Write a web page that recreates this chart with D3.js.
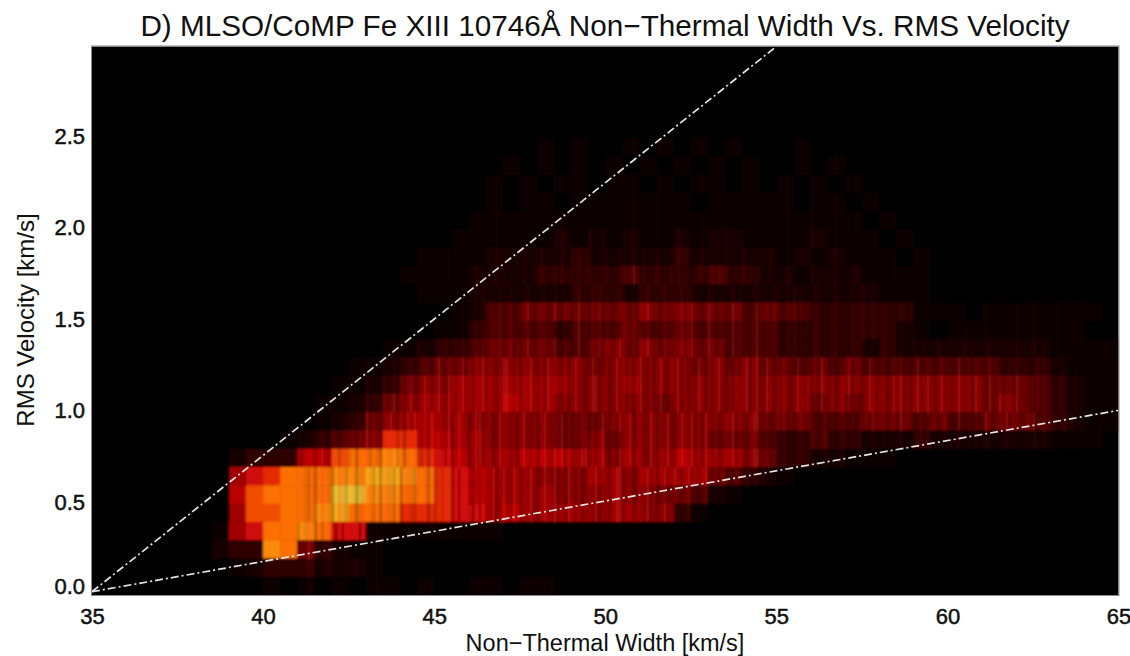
<!DOCTYPE html>
<html><head><meta charset="utf-8">
<script src="https://cdn.jsdelivr.net/npm/d3@7"></script>
<style>html,body{margin:0;background:#fff}svg{display:block}text{font-family:"Liberation Sans",Arial,sans-serif;fill:#111}</style>
</head><body><svg id="c" width="1130" height="656"></svg>
<script>
const titleText = "D) MLSO/CoMP Fe XIII 10746Å Non\u2212Thermal Width Vs. RMS Velocity";
const xLabel = "Non\u2212Thermal Width [km/s]";
const yLabel = "RMS Velocity [km/s]";
const xTicks = [35,40,45,50,55,60,65];
const yTicks = [0,0.5,1,1.5,2,2.5];
const binWidth = 0.5, binHeight = 0.1;
// density, hex level 0-f, one string per RMS velocity bin, lowest edge given in rowStart
const rowStart = [2.4,2.3,2.2,2.1,2.0,1.9,1.8,1.7,1.6,1.5,1.4,1.3,1.2,1.1,1.0,0.9,0.8,0.7,0.6,0.5,0.4,0.3,0.2,0.1,0.0];
const density = [
"0000000000 0000000000 0000001010 0101010100 0100000000 0000000000",
"0000000000 0000000000 0000101010 1010101010 0101000000 0000000000",
"0000000000 0000000000 0001010110 1101011010 1010100000 0000000000",
"0000000000 0000000000 0001011011 1111101111 1011010000 0000000000",
"0000000000 0000000000 0011111111 1111111111 1111101000 0000000000",
"0000000000 0000000000 0111111212 1211212211 1121110100 0000000000",
"0000000000 0000000001 1112222232 2222322222 1212111010 0000000000",
"0000000000 0000000011 1122223333 3433334332 2122211110 0000000000",
"0000000000 0000000001 1122222233 3233322222 2222221110 0000000000",
"0000000000 0000000000 0124455555 5565655545 4433333311 1011111110",
"0000000000 0000000000 1134444344 4544544444 3333333210 1111111100",
"0000000000 0000000112 3345555445 6565655444 3333323222 2222221111",
"0000000000 0000011234 5566666665 6666656565 5454544444 4443332111",
"0000000000 0000112356 6777777766 6766666666 6666666666 6655543211",
"0000000000 0001123567 7777877666 6665666666 6656566666 6656543211",
"0000000000 0001235678 7766666555 6666666665 5544455545 4455543211",
"0000000000 0123456aa8 8776666556 5666665554 3343322232 2222221110",
"0000000023 3388bccdca 9877788877 6767877765 3322111000 0000000000",
"0000000079 acccddeedc a987776667 7677775432 1000000000 0000000000",
"000000008b ccccffddcc a987777666 7665542100 0000000000 0000000000",
"000000007b bccdecccaa a997877776 7766310000 0000000000 0000000000",
"0000000179 ccdc991111 1111000000 0000000000 0000000000 0000000000",
"0000000233 dc53211000 0000000000 0000000000 0000000000 0000000000",
"0000000012 3332221000 0000000000 0000000000 0000000000 0000000000",
"0000000000 1010101101 0011011000 0000000000 0000000000 0000000000"
].map(s => s.replace(/ /g,""));
// fine vertical streaks, 0.1 km/s wide, starting at streakStart; 3 = neutral
const streakStart = 41, streakWidth = 0.1, streakBarWidth = 0.07;
const streaks = ("3530362313 6324053316 2351340633 2036153403 5312630425 3163024360 5310436235 1640352603" +
"4251360314 6203541362 0531462305 3614203563 1405362130 6342150364 2036513402 6351304621" +
"3046215360 4132650314 6203153460 3521640325 1036425130 6314025361 4203651340 2536130462").replace(/ /g,"");
// which part of the streak list each velocity bin reads, groups of neighbouring bins share streaks
const streakShift = [0,0,0,0,0,0,0,0,23,23,23,23,57,57,57,91,91,91,131,131,131,171,171,171,171];
const lineLower = [[35,0.018],[65,1.01]];
const lineUpper = [[35,0.018],[55,3.0]];

const svg = d3.select("#c");
const x = d3.scaleLinear().domain([35,65]).range([92,1118.5]);
const y = d3.scaleLinear().domain([0,3]).range([595,46.5]);
const colors = ["#000000","#0a0000","#180000","#2e0000","#4e0000","#6c0000","#880000","#a00000","#ba0000","#d00808","#e42a04","#f04e06","#fb7004","#fb8a0c","#f4a818","#e8c030"];
const color = d3.scaleLinear().domain(d3.range(16)).range(colors);

svg.append("defs").append("filter").attr("id","b").attr("x","0").attr("y","0").attr("width","1").attr("height","1")
  .append("feGaussianBlur").attr("stdDeviation","1.2");
svg.append("defs").append("clipPath").attr("id","pc").append("rect")
  .attr("x",x(35)).attr("y",y(3)).attr("width",x(65)-x(35)).attr("height",y(0)-y(3));

svg.append("rect").attr("x",x(35)).attr("y",y(3)).attr("width",x(65)-x(35)).attr("height",y(0)-y(3)).attr("fill","#000");
const plot = svg.append("g").attr("clip-path","url(#pc)");
const img = plot.append("g").attr("filter","url(#b)");

const cells = [];
density.forEach((s,r) => { for (let i=0;i<s.length;i++){ const v=parseInt(s[i],16); if(v>0) cells.push({v0:rowStart[r],x0:35+i*binWidth,v}); } });
img.selectAll("rect.cell").data(cells).join("rect").attr("class","cell")
  .attr("x",d=>x(d.x0)).attr("width",d=>x(d.x0+binWidth)-x(d.x0)+0.5)
  .attr("y",d=>y(d.v0+binHeight)).attr("height",d=>y(d.v0)-y(d.v0+binHeight)+0.5)
  .attr("fill",d=>color(d.v));

const over = [];
for (let f=0;f<streaks.length;f++){
  const xf=streakStart+f*streakWidth, col=Math.floor((xf-35)/binWidth);
  density.forEach((row,r)=>{
    const v=parseInt(row[col]||"0",16);
    const s=+streaks[(f+streakShift[r])%streaks.length];
    if(v>0 && s!==3) over.push({x0:xf,v0:rowStart[r],v,s});
  });
}
img.selectAll("rect.st").data(over).join("rect").attr("class","st")
  .attr("x",d=>x(d.x0)).attr("width",d=>x(d.x0+streakBarWidth)-x(d.x0))
  .attr("y",d=>y(d.v0+binHeight)).attr("height",d=>y(d.v0)-y(d.v0+binHeight)+0.5)
  .attr("fill",d=>d.s>3?"#e8282a":"#000")
  .attr("opacity",d=>Math.abs(d.s-3)*(d.s>3?0.085:0.10)*Math.min(1,d.v/6));

const line = d3.line().x(d=>x(d[0])).y(d=>y(d[1]));
plot.selectAll("path.ref").data([lineUpper,lineLower]).join("path").attr("class","ref")
  .attr("d",line).attr("fill","none").attr("stroke","#e4e4e4").attr("stroke-width",1.7)
  .attr("stroke-dasharray","8,3,2,3");

svg.append("rect").attr("x",x(35)-0.5).attr("y",y(3)-0.5).attr("width",x(65)-x(35)+1).attr("height",y(0)-y(3)+1)
  .attr("fill","none").attr("stroke","#8a8a8a").attr("stroke-width",1);

const ax = svg.append("g").attr("transform",`translate(0,${y(0)})`)
  .call(d3.axisBottom(x).tickValues(xTicks).tickSize(0).tickFormat(d3.format("d")));
ax.select(".domain").remove();
ax.selectAll("text").attr("y",22).attr("dy",".32em").style("font-size","22px").style("stroke","#111").style("stroke-width","0.5px");
const ay = svg.append("g").attr("transform",`translate(${x(35)},0)`)
  .call(d3.axisLeft(y).tickValues(yTicks).tickSize(0).tickFormat(d3.format(".1f")));
ay.select(".domain").remove();
ay.selectAll("text").attr("x",-7).attr("dy",d=>d===0?"-0.05em":".25em").style("font-size","22px").style("stroke","#111").style("stroke-width","0.5px");

svg.append("text").attr("x",605).attr("y",36).attr("text-anchor","middle").style("font-size","29.7px").text(titleText);
svg.append("text").attr("x",605).attr("y",651).attr("text-anchor","middle").style("font-size","23.5px").text(xLabel);
svg.append("text").attr("transform","translate(34,320) rotate(-90)").attr("text-anchor","middle").style("font-size","24px").text(yLabel);
</script></body></html>
